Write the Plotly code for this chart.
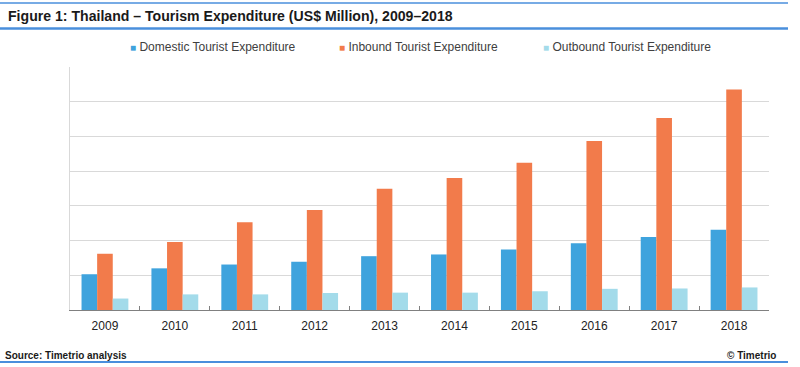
import plotly.graph_objects as go

years = ["2009", "2010", "2011", "2012", "2013", "2014", "2015", "2016", "2017", "2018"]
domestic = [10300, 12000, 13100, 13900, 15500, 16000, 17400, 19200, 21000, 23100]
inbound = [16200, 19600, 25300, 28800, 34900, 38000, 42400, 48700, 55300, 63500]
outbound = [3300, 4500, 4500, 4900, 5000, 5000, 5400, 6100, 6200, 6500]

series_names = ["Domestic Tourist Expenditure", "Inbound Tourist Expenditure", "Outbound Tourist Expenditure"]
colors = ["#3fa3dd", "#f27b4b", "#a3dbea"]
legend_x = [128, 337, 541]

W, H = 800, 367
L, R, T, B = 70, 769, 67, 310

def px(x):
    return (x - L) / (R - L)

def py(y):
    return (B - y) / (B - T)

FONT = "Liberation Sans, Arial, sans-serif"

fig = go.Figure()
for name, vals, c in zip(series_names, [domestic, inbound, outbound], colors):
    fig.add_trace(go.Bar(x=years, y=vals, name=name, marker=dict(color=c, line=dict(width=0)),
                         showlegend=False))

fig.update_layout(
    width=W, height=H,
    margin=dict(l=L, r=W - R, t=T, b=H - B, pad=0, autoexpand=False),
    paper_bgcolor="white", plot_bgcolor="white",
    barmode="group", bargap=0.33, bargroupgap=0,
    font=dict(family=FONT, color="#333333"),
    showlegend=False,
    xaxis=dict(type="category", showline=True, linecolor="#808080", linewidth=1,
               ticks="inside", tickson="boundaries", ticklen=4, tickcolor="#808080",
               tickfont=dict(size=12, color="#222222", family=FONT), ticklabelstandoff=5,
               showgrid=False, fixedrange=True, automargin=False),
    yaxis=dict(range=[0, 70000], dtick=10000, showticklabels=False, ticks="",
               showgrid=True, gridcolor="#d9d9d9", gridwidth=1,
               showline=True, linecolor="#d9d9d9", linewidth=1,
               zeroline=False, fixedrange=True, automargin=False),
)

shapes = [
    dict(type="line", xref="paper", yref="paper", x0=px(0), x1=px(788), y0=py(3), y1=py(3),
         line=dict(color="#4a8fdc", width=1.5)),
    dict(type="line", xref="paper", yref="paper", x0=px(0), x1=px(788), y0=py(28.5), y1=py(28.5),
         line=dict(color="#4a8fdc", width=2.5)),
    dict(type="line", xref="paper", yref="paper", x0=px(0), x1=px(788), y0=py(362), y1=py(362),
         line=dict(color="#4a8fdc", width=2)),
]
fig.update_layout(shapes=shapes)

annotations = [
    dict(text="<b>Figure 1: Thailand – Tourism Expenditure (US$ Million), 2009–2018</b>",
         xref="paper", yref="paper", x=px(6), y=py(16), xanchor="left", yanchor="middle",
         showarrow=False, font=dict(size=14.1, color="#1a1a1a", family=FONT)),
    dict(text="<b>Source: Timetrio analysis</b>", xref="paper", yref="paper",
         x=px(3), y=py(355), xanchor="left", yanchor="middle", showarrow=False,
         font=dict(size=10, color="#1a1a1a", family=FONT)),
    dict(text="<b>© Timetrio</b>", xref="paper", yref="paper",
         x=px(778), y=py(355), xanchor="right", yanchor="middle", showarrow=False,
         font=dict(size=10, color="#1a1a1a", family=FONT)),
]
for name, c, lx in zip(series_names, colors, legend_x):
    annotations.append(dict(
        text=f'<span style="color:{c};font-size:10px">■</span> {name}',
        xref="paper", yref="paper", x=px(lx), y=py(47), xanchor="left", yanchor="middle",
        showarrow=False, font=dict(size=12, color="#404040", family=FONT)))
fig.update_layout(annotations=annotations)

fig.write_html("out.html", config={"displayModeBar": False},
               post_script="document.body.style.margin='0px';document.body.style.overflow='hidden';")
